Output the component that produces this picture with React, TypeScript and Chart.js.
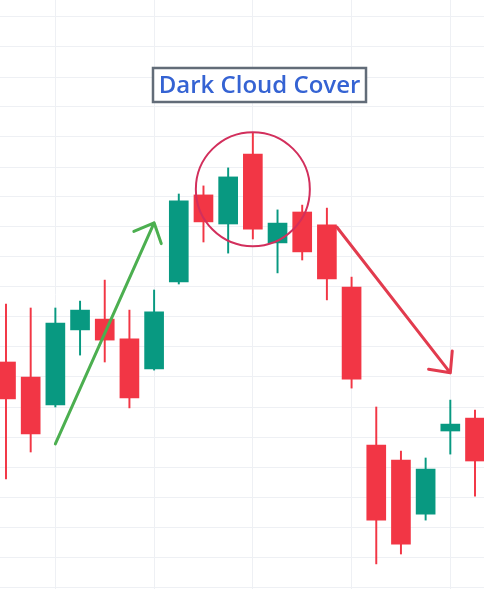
import React, { useEffect, useRef } from "react";
import { Chart, registerables } from "chart.js";

Chart.register(...registerables);

// ---- data ----
const candleIndex = [0, 1, 2, 3, 4, 5, 6, 7, 8, 9, 10, 11, 12, 13, 14, 15, 16, 17, 18, 19];
const openValues = [85, 80, 70.7, 95.7, 99.3, 92.7, 82.7, 111.7, 140.7, 131, 154.3, 124.7, 135, 130.7, 110, 57.3, 52.3, 34.3, 62, 66.3];
const highValues = [104.3, 103, 103, 105.3, 112.3, 102.3, 109, 141, 143.7, 149.7, 161.3, 135.7, 137.3, 136.3, 113.3, 70, 55.3, 53, 72.3, 69];
const lowValues = [46, 55, 70, 87.3, 85, 69.7, 82.3, 111, 125, 121.3, 126, 114.7, 119, 105.7, 76.3, 17.7, 21, 32.3, 54.3, 40.3];
const closeValues = [72.7, 61, 98, 102.3, 92.3, 73, 101.7, 138.7, 131.7, 146.7, 129.3, 131.3, 121.7, 112.7, 79.3, 32.3, 24.3, 49.3, 64.3, 52];

const xGridTicks = [2, 6, 10, 14, 18];
const yGridTicks = [10, 20, 30, 40, 50, 60, 70, 80, 90, 100, 110, 120, 130, 140, 150, 160, 170, 180, 190, 200];

const titleText = "Dark Cloud Cover";
// annotations in data coordinates [x index, price]
const greenArrow = [[2, 57.7], [6, 131.4]];
const redArrow = [[13.4, 130], [18, 81.4]];
const circleCenter = [10, 142.6];
const circleRadius = 19; // price units

const UP = "#089981";
const DOWN = "#F23645";

export default function App() {
  const ref = useRef<HTMLCanvasElement | null>(null);

  useEffect(() => {
    document.body.style.margin = "0";
    const canvas = ref.current;
    if (!canvas) return;

    const colors = candleIndex.map((i) => (closeValues[i] >= openValues[i] ? UP : DOWN));

    const drawArrow = (ctx: CanvasRenderingContext2D, x1: number, y1: number, x2: number, y2: number, color: string) => {
      const ang = Math.atan2(y1 - y2, x1 - x2);
      const len = 22;
      const half = (43 * Math.PI) / 180;
      ctx.save();
      ctx.strokeStyle = color;
      ctx.lineWidth = 3;
      ctx.lineCap = "round";
      ctx.lineJoin = "round";
      ctx.beginPath();
      ctx.moveTo(x1, y1);
      ctx.lineTo(x2, y2);
      ctx.moveTo(x2 + len * Math.cos(ang + half), y2 + len * Math.sin(ang + half));
      ctx.lineTo(x2, y2);
      ctx.lineTo(x2 + len * Math.cos(ang - half), y2 + len * Math.sin(ang - half));
      ctx.stroke();
      ctx.restore();
    };

    const annotationPlugin = {
      id: "annotations",
      afterDatasetsDraw(chart: any) {
        const ctx: CanvasRenderingContext2D = chart.ctx;
        const xs = chart.scales.x;
        const ys = chart.scales.y;
        // circle
        const cx = xs.getPixelForValue(circleCenter[0]);
        const cy = ys.getPixelForValue(circleCenter[1]);
        const r = Math.abs(ys.getPixelForValue(circleCenter[1] + circleRadius) - cy);
        ctx.save();
        ctx.strokeStyle = "#D22F5C";
        ctx.lineWidth = 2;
        ctx.beginPath();
        ctx.arc(cx, cy, r, 0, Math.PI * 2);
        ctx.stroke();
        ctx.restore();
        // arrows
        drawArrow(ctx, xs.getPixelForValue(greenArrow[0][0]), ys.getPixelForValue(greenArrow[0][1]),
          xs.getPixelForValue(greenArrow[1][0]), ys.getPixelForValue(greenArrow[1][1]), "#4CAF50");
        drawArrow(ctx, xs.getPixelForValue(redArrow[0][0]), ys.getPixelForValue(redArrow[0][1]),
          xs.getPixelForValue(redArrow[1][0]), ys.getPixelForValue(redArrow[1][1]), "#E23B4E");
        // title box
        ctx.save();
        ctx.font = "600 24px 'Open Sans'";
        const tw = ctx.measureText(titleText).width;
        const bw = 213;
        const bh = 34;
        const bx = 153;
        const by = 68;
        ctx.fillStyle = "#ffffff";
        ctx.fillRect(bx, by, bw, bh);
        ctx.strokeStyle = "#626C78";
        ctx.lineWidth = 2.5;
        ctx.strokeRect(bx, by, bw, bh);
        ctx.fillStyle = "#3563D3";
        ctx.textBaseline = "alphabetic";
        ctx.textAlign = "left";
        ctx.fillText(titleText, bx + (bw - tw) / 2, by + 25);
        ctx.restore();
      },
    };

    const chart = new Chart(canvas, {
      type: "bar",
      data: {
        datasets: [
          {
            label: "body",
            data: candleIndex.map((i) => ({ x: i, y: [openValues[i], closeValues[i]] })) as any,
            backgroundColor: colors,
            borderWidth: 0,
            barThickness: 19,
            grouped: false,
            order: 0,
          } as any,
          {
            label: "wick",
            data: candleIndex.map((i) => ({ x: i, y: [lowValues[i], highValues[i]] })) as any,
            backgroundColor: colors,
            borderWidth: 0,
            barThickness: 1.3,
            grouped: false,
            order: 1,
          } as any,
        ],
      },
      options: {
        responsive: false,
        animation: false,
        layout: { padding: 0 },
        plugins: {
          legend: { display: false },
          tooltip: { enabled: false },
          title: { display: false },
        },
        scales: {
          x: {
            type: "linear",
            min: -6 / (469 / 19),
            max: 19 + 9 / (469 / 19),
            offset: false,
            afterBuildTicks: (axis: any) => {
              axis.ticks = xGridTicks.map((v) => ({ value: v }));
            },
            ticks: { display: false },
            border: { display: false },
            grid: { color: "#EEF0F4", drawTicks: false, lineWidth: 1, offset: false },
          },
          y: {
            type: "linear",
            min: 28 / 3,
            max: 617 / 3,
            afterBuildTicks: (axis: any) => {
              axis.ticks = yGridTicks.map((v) => ({ value: v }));
            },
            ticks: { display: false },
            border: { display: false },
            grid: { color: "#EEF0F4", drawTicks: false, lineWidth: 1, offset: false },
          },
        },
      } as any,
      plugins: [annotationPlugin],
    });

    return () => chart.destroy();
  }, []);

  return (
    <div style={{ width: 484, height: 589, background: "#ffffff" }}>
      <canvas ref={ref} width={484} height={589} style={{ display: "block" }} />
    </div>
  );
}
